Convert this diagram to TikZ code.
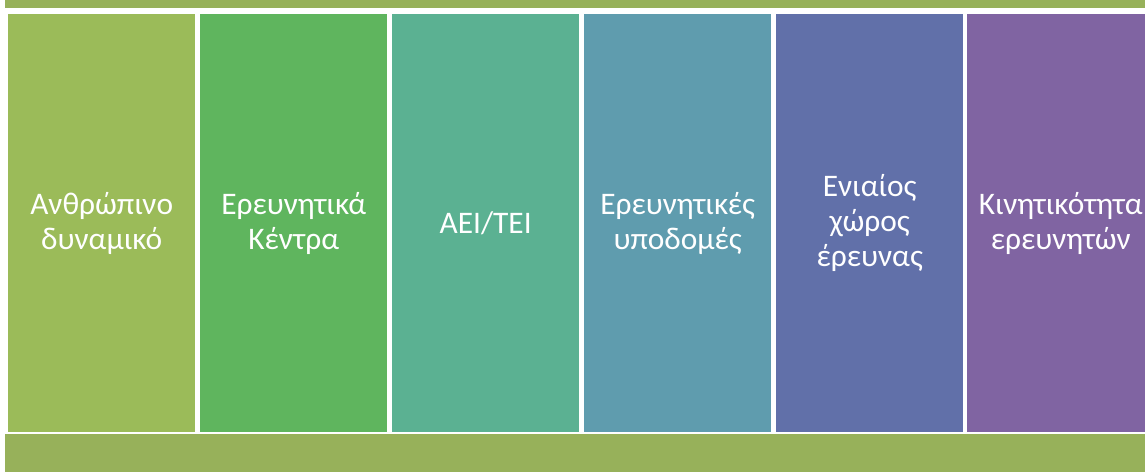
\documentclass[tikz,border=0pt]{standalone}
\usepackage{fontspec}
\setmainfont{Carlito}
\definecolor{barc}{HTML}{97B15A}
\definecolor{c1}{HTML}{9BBB59}
\definecolor{c2}{HTML}{5FB55E}
\definecolor{c3}{HTML}{5BB192}
\definecolor{c4}{HTML}{5F9CAE}
\definecolor{c5}{HTML}{6170A9}
\definecolor{c6}{HTML}{8064A2}
\begin{document}
\begin{tikzpicture}[x=1bp,y=-1bp,
  colbox/.style={draw=none,minimum width=187bp,minimum height=418bp,inner sep=0pt,anchor=north west,
    text=white,align=center,font=\fontsize{31.5}{35}\selectfont},
  barbox/.style={fill=barc,draw=none,inner sep=0pt,anchor=north west}]
\useasboundingbox (0,0) rectangle (1145,472);
\clip (0,0) rectangle (1145,472);
\fill[white] (0,0) rectangle (1145,472);
\node[barbox,minimum width=1150bp,minimum height=8bp] (top) at (5,0) {};
\node[barbox,minimum width=1150bp,minimum height=38bp] (bot) at (5,434) {};
\node[colbox,fill=c1] (a) at (8,14) {Ανθρώπινο\\δυναμικό};
\node[colbox,fill=c2] (b) at (200,14) {Ερευνητικά\\Κέντρα};
\node[colbox,fill=c3] (c) at (392,14) {ΑΕΙ/ΤΕΙ};
\node[colbox,fill=c4] (d) at (584,14) {Ερευνητικές\\υποδομές};
\node[colbox,fill=c5] (e) at (776,14) {Ενιαίος\\χώρος\\έρευνας};
\node[colbox,fill=c6] (f) at (967,14) {Κινητικότητα\\ερευνητών};
\end{tikzpicture}
\end{document}
